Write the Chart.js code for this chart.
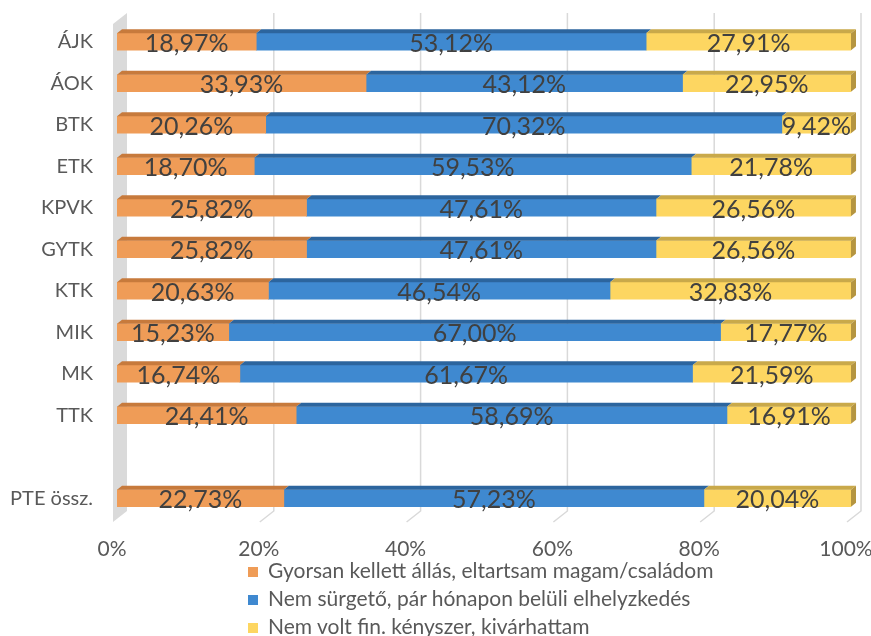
<!DOCTYPE html>
<html>
<head>
<meta charset="utf-8">
<script src="https://cdn.jsdelivr.net/npm/chart.js@4.4.1/dist/chart.umd.min.js"></script>
<style>
  html, body { margin: 0; padding: 0; background: #fff; }
  #wrap { position: relative; width: 871px; height: 636px; }
  #legend { position: absolute; left: 248px; top: 556px; font-family: Lato, sans-serif; font-size: 21px; color: #595959; }
  #legend div { height: 28px; line-height: 28px; white-space: nowrap; }
  #legend span { display: inline-block; width: 10px; height: 10px; margin-right: 10px; vertical-align: 1px; }
</style>
</head>
<body>
<div id="wrap">
  <canvas id="grafico" width="871" height="636"></canvas>
  <div id="legend"></div>
</div>
<script>
var karok = ["ÁJK", "ÁOK", "BTK", "ETK", "KPVK", "GYTK", "KTK", "MIK", "MK", "TTK", "", "PTE össz."];
var gyorsan = [18.97, 33.93, 20.26, 18.70, 25.82, 25.82, 20.63, 15.23, 16.74, 24.41, null, 22.73];
var nemSurgeto = [53.12, 43.12, 70.32, 59.53, 47.61, 47.61, 46.54, 67.00, 61.67, 58.69, null, 57.23];
var kivarhattam = [27.91, 22.95, 9.42, 21.78, 26.56, 26.56, 32.83, 17.77, 21.59, 16.91, null, 20.04];
var sorozatNevek = [
    "Gyorsan kellett állás, eltartsam magam/családom",
    "Nem sürgető, pár hónapon belüli elhelyzkedés",
    "Nem volt fin. kényszer, kivárhattam"
];
var tickErtekek = [0, 20, 40, 60, 80, 100];

var szinek = ["#EF9C57", "#3F89D0", "#FDD661"];
var tetoSzinek = ["#C77A3C", "#2C659E", "#C9A94A"];
var oldalSzin = "#B59540";

// 3D look: bars have a shallow depth, walls/gridlines sit further back
var melyseg = { dx: 5, dy: -4 };
var hatso = { dx: 10, dy: -8 };
var padlo = { dx: -14, dy: 11 };

function szazalek(v) {
    return v.toFixed(2).replace(".", ",") + "%";
}

function nullPadding(s) {
    s.paddingLeft = 0;
    s.paddingRight = 0;
    s.paddingTop = 0;
    s.paddingBottom = 0;
}

var haromD = {
    id: 'haromD',
    beforeDatasetsDraw: function (chart) {
        var ctx = chart.ctx, a = chart.chartArea, xs = chart.scales.x;
        ctx.save();
        // left wall
        ctx.fillStyle = "#DADADA";
        ctx.beginPath();
        ctx.moveTo(a.left - 4, a.top + 3);
        ctx.lineTo(a.left + hatso.dx, a.top + hatso.dy);
        ctx.lineTo(a.left + hatso.dx, a.bottom + hatso.dy);
        ctx.lineTo(a.left - 4, a.bottom + 3);
        ctx.closePath();
        ctx.fill();
        // back gridlines with floor lines
        ctx.strokeStyle = "#D9D9D9";
        ctx.lineWidth = 1.5;
        tickErtekek.forEach(function (t) {
            if (t === 0) return;
            var x = xs.getPixelForValue(t) + hatso.dx;
            ctx.beginPath();
            ctx.moveTo(x, a.top + hatso.dy);
            ctx.lineTo(x, a.bottom + hatso.dy);
            ctx.lineTo(x + padlo.dx, a.bottom + hatso.dy + padlo.dy);
            ctx.stroke();
        });
        ctx.restore();
    },
    afterDatasetsDraw: function (chart) {
        var ctx = chart.ctx;
        ctx.save();
        var n = chart.data.datasets.length;
        chart.data.datasets.forEach(function (ds, di) {
            chart.getDatasetMeta(di).data.forEach(function (el, i) {
                if (ds.data[i] == null) return;
                var p = el.getProps(['x', 'y', 'base', 'height'], true);
                var l = Math.min(p.base, p.x), r = Math.max(p.base, p.x);
                var t = p.y - p.height / 2, b = p.y + p.height / 2;
                ctx.fillStyle = tetoSzinek[di];
                ctx.beginPath();
                ctx.moveTo(l, t);
                ctx.lineTo(r, t);
                ctx.lineTo(r + melyseg.dx, t + melyseg.dy);
                ctx.lineTo(l + melyseg.dx, t + melyseg.dy);
                ctx.closePath();
                ctx.fill();
                if (di === n - 1) {
                    ctx.fillStyle = oldalSzin;
                    ctx.beginPath();
                    ctx.moveTo(r, t);
                    ctx.lineTo(r + melyseg.dx, t + melyseg.dy);
                    ctx.lineTo(r + melyseg.dx, b + melyseg.dy);
                    ctx.lineTo(r, b);
                    ctx.closePath();
                    ctx.fill();
                }
            });
        });
        // value labels
        ctx.font = "25px Lato";
        ctx.fillStyle = "#404040";
        ctx.textAlign = "center";
        ctx.textBaseline = "middle";
        chart.data.datasets.forEach(function (ds, di) {
            chart.getDatasetMeta(di).data.forEach(function (el, i) {
                if (ds.data[i] == null) return;
                var p = el.getProps(['x', 'y', 'base'], true);
                ctx.fillText(szazalek(ds.data[i]), (p.x + p.base) / 2, p.y + 2);
            });
        });
        ctx.restore();
    }
};

var ctx = document.getElementById("grafico").getContext("2d");

var grafico = new Chart(ctx, {
    type: 'bar',
    data: {
        labels: karok,
        datasets: [
            { label: sorozatNevek[0], data: gyorsan, backgroundColor: szinek[0] },
            { label: sorozatNevek[1], data: nemSurgeto, backgroundColor: szinek[1] },
            { label: sorozatNevek[2], data: kivarhattam, backgroundColor: szinek[2] }
        ]
    },
    plugins: [haromD],
    options: {
        indexAxis: 'y',
        responsive: false,
        animation: false,
        barThickness: 17,
        layout: { padding: { top: 21, right: 20, left: 0, bottom: 0 } },
        scales: {
            x: {
                stacked: true,
                min: 0,
                max: 100,
                afterBuildTicks: function (s) {
                    s.ticks = tickErtekek.map(function (v) { return { value: v }; });
                },
                afterFit: function (s) { s.height = 117; nullPadding(s); },
                grid: { display: false, drawTicks: false },
                border: { display: false },
                ticks: {
                    padding: 18,
                    labelOffset: -5,
                    maxRotation: 0,
                    color: "#595959",
                    font: { family: "Lato", size: 21 },
                    callback: function (v) { return v + "%"; }
                }
            },
            y: {
                stacked: true,
                afterFit: function (s) { s.width = 117; nullPadding(s); },
                grid: { display: false, drawTicks: false },
                border: { display: false },
                ticks: {
                    padding: 24,
                    color: "#595959",
                    font: { family: "Lato", size: 20 }
                }
            }
        },
        plugins: {
            legend: { display: false },
            tooltip: { enabled: false }
        }
    }
});

// legend below the plot
var jelmagyarazat = document.getElementById("legend");
sorozatNevek.forEach(function (nev, i) {
    var sor = document.createElement("div");
    var negyzet = document.createElement("span");
    negyzet.style.background = szinek[i];
    sor.appendChild(negyzet);
    sor.appendChild(document.createTextNode(nev));
    jelmagyarazat.appendChild(sor);
});
</script>
</body>
</html>
